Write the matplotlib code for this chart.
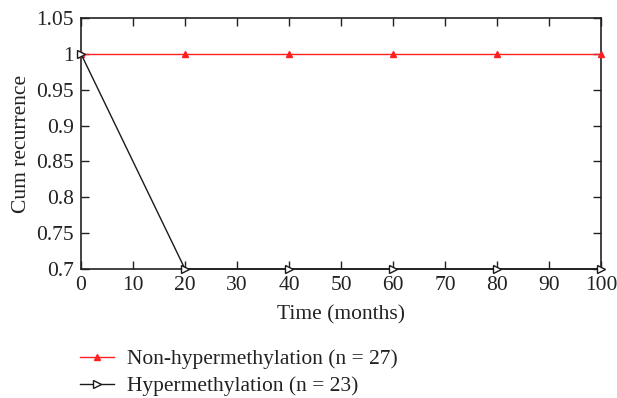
import matplotlib
matplotlib.use("Agg")
import matplotlib.pyplot as plt
from matplotlib.ticker import FuncFormatter

plt.rcParams["font.family"] = ["Liberation Serif", "DejaVu Serif"]

# datos
tiempo = [0, 20, 40, 60, 80, 100]
no_hiper = [1, 1, 1, 1, 1, 1]
hiper = [1, 0.7, 0.7, 0.7, 0.7, 0.7]
etiqueta_no = "Non-hypermethylation (n = 27)"
etiqueta_hi = "Hypermethylation (n = 23)"

fig = plt.figure(figsize=(6.17, 3.98), dpi=100)
ax = fig.add_axes([81 / 617, 1 - 269 / 398, 520 / 617, 251 / 398])

l1, = ax.plot(tiempo, no_hiper, color="#ff2020", lw=1.0, marker="^",
              ms=5, markerfacecolor="#ff2020", markeredgecolor="#ff2020",
              clip_on=False, zorder=3)
l2, = ax.plot(tiempo, hiper, color="#1a1a1a", lw=1.0, marker=">",
              ms=6, markerfacecolor="white", markeredgecolor="#1a1a1a",
              clip_on=False, zorder=4)

ax.set_xlim(0, 100)
ax.set_ylim(0.7, 1.05)
ax.set_xticks(range(0, 101, 10))
ax.set_yticks([0.7, 0.75, 0.8, 0.85, 0.9, 0.95, 1.0, 1.05])
ax.yaxis.set_major_formatter(FuncFormatter(lambda v, p: f"{v:g}"))
ax.tick_params(direction="in", top=True, right=True, labelsize=15.5,
               length=6, width=1.0, colors="#222222", pad=5)
for s in ax.spines.values():
    s.set_linewidth(1.2)
    s.set_color("#222222")

ax.set_xlabel("Time (months)", fontsize=15.5, color="#222222", labelpad=7.5)
ax.set_ylabel("Cum recurrence", fontsize=15.5, color="#222222", labelpad=4)

fig.legend([l1, l2], [etiqueta_no, etiqueta_hi], loc="upper left",
           bbox_to_anchor=(80 / 617, 1 - 349 / 398), frameon=False,
           fontsize=15.5, handlelength=1.6, handletextpad=0.6,
           labelspacing=0.33, borderpad=0, borderaxespad=0,
           labelcolor="#222222")

fig.savefig("out.png", dpi=100)
